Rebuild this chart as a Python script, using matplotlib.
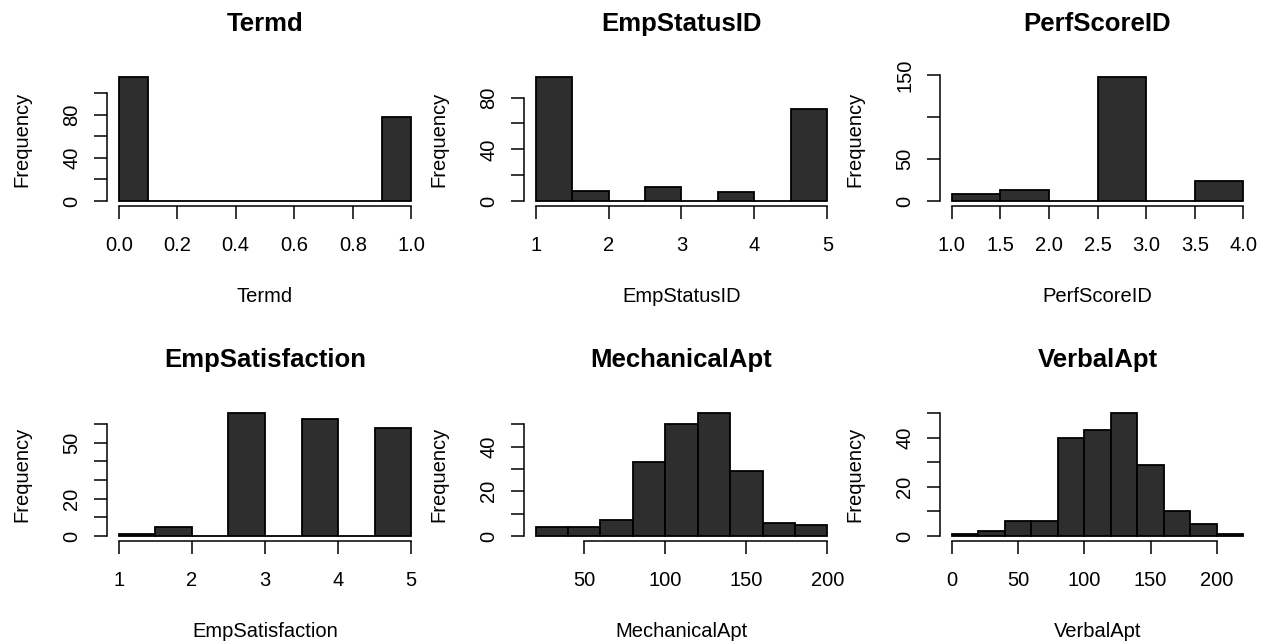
import numpy as np
import matplotlib.pyplot as plt

plt.rcParams['font.family'] = ['Liberation Sans', 'DejaVu Sans']

# histogram data (bin edges + counts)
names = ["Termd", "EmpStatusID", "PerfScoreID",
         "EmpSatisfaction", "MechanicalApt", "VerbalApt"]

termd_edges = [0.0, 0.1, 0.2, 0.3, 0.4, 0.5, 0.6, 0.7, 0.8, 0.9, 1.0]
termd_counts = [115, 0, 0, 0, 0, 0, 0, 0, 0, 78]

status_edges = [1.0, 1.5, 2.0, 2.5, 3.0, 3.5, 4.0, 4.5, 5.0]
status_counts = [96, 8, 0, 11, 0, 7, 0, 71]

perf_edges = [1.0, 1.5, 2.0, 2.5, 3.0, 3.5, 4.0]
perf_counts = [8, 13, 0, 148, 0, 24]

satis_edges = [1.0, 1.5, 2.0, 2.5, 3.0, 3.5, 4.0, 4.5, 5.0]
satis_counts = [1, 5, 0, 66, 0, 63, 0, 58]

mech_edges = [20, 40, 60, 80, 100, 120, 140, 160, 180, 200]
mech_counts = [4, 4, 7, 33, 50, 55, 29, 6, 5]

verbal_edges = [0, 20, 40, 60, 80, 100, 120, 140, 160, 180, 200, 220]
verbal_counts = [1, 2, 6, 6, 40, 43, 50, 29, 10, 5, 1]

# axis ticks, with the labels R kept after dropping overlapping ones
x_ticks = [[0.0, 0.2, 0.4, 0.6, 0.8, 1.0],
           [1, 2, 3, 4, 5],
           [1.0, 1.5, 2.0, 2.5, 3.0, 3.5, 4.0],
           [1, 2, 3, 4, 5],
           [50, 100, 150, 200],
           [0, 50, 100, 150, 200]]
x_labels = [["0.0", "0.2", "0.4", "0.6", "0.8", "1.0"],
            ["1", "2", "3", "4", "5"],
            ["1.0", "1.5", "2.0", "2.5", "3.0", "3.5", "4.0"],
            ["1", "2", "3", "4", "5"],
            ["50", "100", "150", "200"],
            ["0", "50", "100", "150", "200"]]
y_ticks = [[0, 20, 40, 60, 80, 100],
           [0, 20, 40, 60, 80],
           [0, 50, 100, 150],
           [0, 10, 20, 30, 40, 50, 60],
           [0, 10, 20, 30, 40, 50],
           [0, 10, 20, 30, 40, 50]]
y_labels = [["0", "", "40", "", "80", ""],
            ["0", "", "40", "", "80"],
            ["0", "50", "", "150"],
            ["0", "", "20", "", "", "50", ""],
            ["0", "", "20", "", "40", ""],
            ["0", "", "20", "", "40", ""]]

all_edges = [termd_edges, status_edges, perf_edges,
             satis_edges, mech_edges, verbal_edges]
all_counts = [termd_counts, status_counts, perf_counts,
              satis_counts, mech_counts, verbal_counts]

W, H = 1266, 642
fig = plt.figure(figsize=(W / 100, H / 100), dpi=100)

# plot regions in pixels (left, right), (top, bottom)
cols = [(107, 423), (524, 839), (940, 1255)]
rows = [(72, 206), (408, 541)]

for i in range(6):
    r, c = divmod(i, 3)
    l, rt = cols[c]
    t, b = rows[r]
    ax = fig.add_axes([l / W, 1 - b / H, (rt - l) / W, (b - t) / H])

    edges = np.array(all_edges[i], dtype=float)
    counts = np.array(all_counts[i], dtype=float)
    ax.bar(edges[:-1], counts, width=np.diff(edges), align='edge',
           color='#2e2e2e', edgecolor='black', linewidth=1.3)

    lo, hi = edges[0], edges[-1]
    ext = 0.04 * (hi - lo)
    ax.set_xlim(lo - ext, hi + ext)
    ymax = counts.max()
    ax.set_ylim(-0.04 * ymax, 1.04 * ymax)

    for s in ['top', 'right']:
        ax.spines[s].set_visible(False)
    ax.spines['left'].set_bounds(y_ticks[i][0], y_ticks[i][-1])
    ax.spines['bottom'].set_bounds(x_ticks[i][0], x_ticks[i][-1])
    ax.spines['left'].set_linewidth(1.1)
    ax.spines['bottom'].set_linewidth(1.1)

    ax.set_xticks(x_ticks[i])
    ax.set_xticklabels(x_labels[i], fontsize=14.5)
    ax.set_yticks(y_ticks[i])
    ax.set_yticklabels(y_labels[i], fontsize=14.5, rotation=90, va='center')
    ax.tick_params(axis='x', length=9.5, width=1.1, pad=12)
    ax.tick_params(axis='y', length=9.5, width=1.1, pad=9)

    xc = (l + rt) / 2 / W
    fig.text(xc, 1 - (31 + r * 336) / H, names[i], ha='center',
             va='baseline', fontsize=18.5, fontweight='bold')
    fig.text(xc, 1 - (301.7 + r * 335.6) / H, names[i], ha='center',
             va='baseline', fontsize=14.5)
    fig.text((l - 85) / W, 1 - (t + b) / 2 / H, "Frequency", ha='center',
             va='center', rotation=90, fontsize=14.5)

fig.savefig('out.png', dpi=100)
